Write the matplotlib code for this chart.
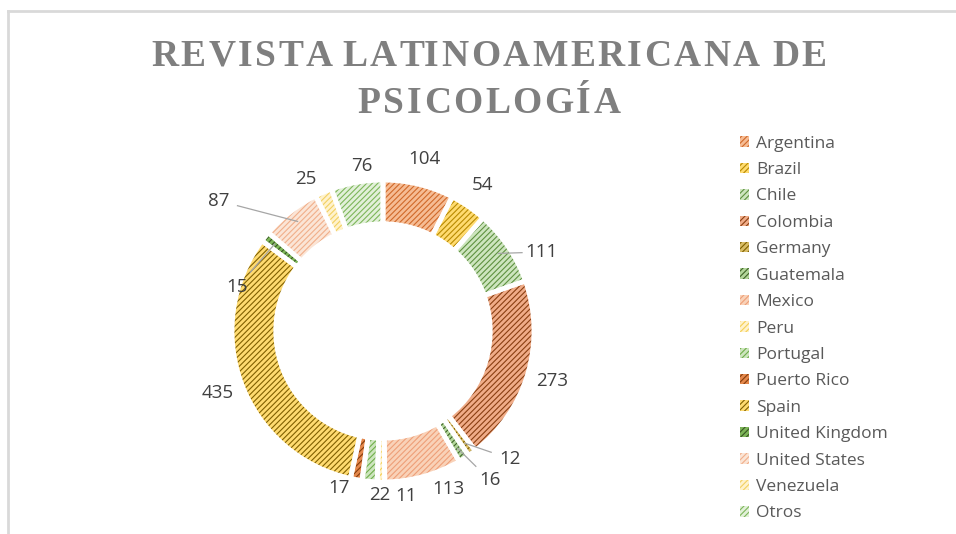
import numpy as np
import matplotlib
matplotlib.use("Agg")
import matplotlib.pyplot as plt
from matplotlib.patches import Patch
from matplotlib.lines import Line2D
from matplotlib.font_manager import FontProperties

# ==========================================
# DATA
# ==========================================

countries = ["Argentina", "Brazil", "Chile", "Colombia", "Germany", "Guatemala",
             "Mexico", "Peru", "Portugal", "Puerto Rico", "Spain",
             "United Kingdom", "United States", "Venezuela", "Otros"]
counts = [104, 54, 111, 273, 12, 16, 113, 11, 22, 17, 435, 15, 87, 25, 76]

face_colors = ["#F6BC94", "#FFDB70", "#CDE5BE", "#F0AC88", "#D9BD66", "#B2D69A",
               "#F9D2B8", "#FFF2CC", "#CDE5BE", "#E5884C", "#FFDB70",
               "#7DB558", "#FBE5D6", "#FFF2CC", "#E2F0D9"]
hatch_colors = ["#D0692A", "#B88A00", "#5E9140", "#8A3F12", "#7F6000", "#3F6428",
                "#EE9F78", "#F5CF55", "#6FAE4A", "#843C0C", "#806000",
                "#375623", "#F1AF8A", "#F2D060", "#7DB65A"]

title = "REVISTA LATINOAMERICANA DE\nPSICOLOGÍA"

# label nudges (data units) where the chart spreads crowded labels
nudges = {2: (0.08, -0.13), 4: (0.15, 0.1), 5: (0.08, 0.0), 6: (0.12, 0.08),
          7: (0.17, 0.08), 8: (0.08, 0.08), 9: (-0.08, 0.11),
          11: (-0.05, -0.44), 12: (-0.37, -0.06), 13: (-0.05, -0.07), 14: (0.06, -0.06)}

plt.rcParams["hatch.linewidth"] = 0.8
HATCH = "//////"

fig = plt.figure(figsize=(9.56, 5.34), dpi=100)

# chart border (top and left only visible)
fig.add_artist(Line2D([8 / 956, 1], [1 - 11 / 534, 1 - 11 / 534], color="#D9D9D9", lw=2))
fig.add_artist(Line2D([8 / 956, 8 / 956], [0, 1 - 11 / 534], color="#D9D9D9", lw=2))

# ==========================================
# DONUT
# ==========================================

k = 1.35
size = 2 * 151 * k
ax = fig.add_axes([(383 - size / 2) / 956, (203 - size / 2) / 534, size / 956, size / 534])

wedges, _ = ax.pie(counts, startangle=90, counterclock=False, colors=face_colors,
                   wedgeprops=dict(width=0.29, linewidth=0))
for w, hc in zip(wedges, hatch_colors):
    w.set_edgecolor(hc)
    w.set_hatch(HATCH)
    w.set_linewidth(0)

# white gaps between slices
ax.pie(counts, startangle=90, counterclock=False, colors=["none"] * len(counts),
       wedgeprops=dict(width=0.29, edgecolor="white", linewidth=3.5))

ax.set_xlim(-k, k)
ax.set_ylim(-k, k)
ax.set_aspect("equal")
ax.axis("off")

# data labels
for i, w in enumerate(wedges):
    ang = np.deg2rad((w.theta1 + w.theta2) / 2)
    r_lab = 1.17
    x, y = r_lab * np.cos(ang), r_lab * np.sin(ang)
    dx, dy = nudges.get(i, (0, 0))
    x, y = x + dx, y + dy
    ax.text(x, y, str(counts[i]), ha="center", va="center", fontsize=13.5,
            family="Open Sans", color="#404040", clip_on=False)
    ax_, ay_ = 0.92 * np.cos(ang), 0.92 * np.sin(ang)
    d = np.hypot(x - ax_, y - ay_)
    if d > 0.28:
        ux, uy = (ax_ - x) / d, (ay_ - y) / d
        ax.plot([ax_, x + ux * 0.13], [ay_, y + uy * 0.13], color="#A6A6A6", lw=0.9,
                clip_on=False)

# ==========================================
# LEGEND
# ==========================================

handles = [Patch(facecolor=fc, edgecolor=hc, hatch=HATCH, linewidth=0)
           for fc, hc in zip(face_colors, hatch_colors)]
fig.legend(handles, countries, loc="upper left", bbox_to_anchor=(0.774, 0.746),
           frameon=False, handlelength=0.55, handleheight=0.55, handletextpad=0.4,
           labelspacing=0.6, borderpad=0, borderaxespad=0,
           prop=dict(family="Open Sans", size=12.5), labelcolor="#595959")

# ==========================================
# TITLE (letter spaced)
# ==========================================

renderer = fig.canvas.get_renderer()
tprops = dict(family="Liberation Serif", weight="bold", size=27)
fp = FontProperties(**tprops)
tracking = 2.5
baselines = [66, 113]
for line, yb in zip(title.split("\n"), baselines):
    ref_w = renderer.get_text_width_height_descent("|", fp, ismath=False)[0]
    widths = [renderer.get_text_width_height_descent(line[:i] + "|", fp, ismath=False)[0] - ref_w
              for i in range(len(line) + 1)]
    total = widths[-1] + tracking * (len(line) - 1)
    x0 = 489 - total / 2
    for i, ch in enumerate(line):
        if ch == " ":
            continue
        xp = x0 + widths[i] + tracking * i
        fig.text(xp / 956, 1 - yb / 534, ch, ha="left", va="baseline",
                 color="#7F7F7F", **tprops)

fig.savefig("out.png", dpi=100)
